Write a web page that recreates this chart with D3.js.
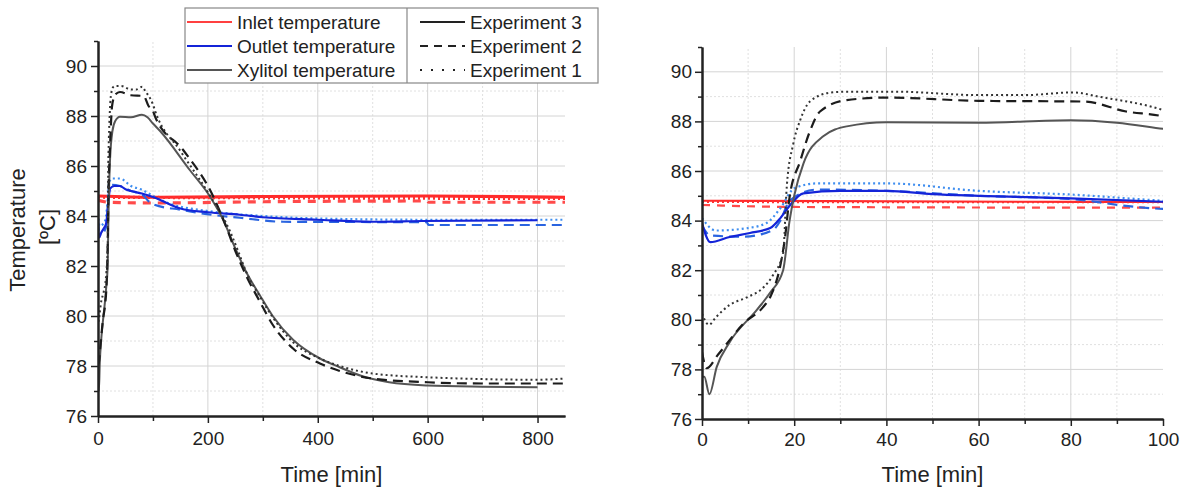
<!DOCTYPE html>
<html>
  <head>
    <title>Temperature profiles</title>
    <script type="text/javascript" src="https://cdn.jsdelivr.net/npm/d3@7"></script>
    <style type="text/css">
      body { margin: 0; background: #fff; }
      text { font-family: "Liberation Sans", Arial, sans-serif; fill: #222; }
      .grid-major line { stroke: #d4d4d4; stroke-width: 1; }
      .grid-minor line { stroke: #e0e0e0; stroke-width: 1; stroke-dasharray: 2,2; }
      .axis path, .axis line { stroke: #222; }
      .axis path { stroke-width: 2; }
      .axis line { stroke-width: 1.5; }
      .axis text { font-size: 19px; }
    </style>
  </head>
  <body>
  <script type="text/javascript">

  // time [min], temperature [C]
  var inletExp3 = [[0,84.8],[100,84.75],[300,84.78],[600,84.8],[850,84.75]]
  var inletExp2 = [[0,84.63],[20,84.55],[100,84.52],[300,84.57],[598,84.6],[602,84.55],[850,84.55]]
  var inletExp1 = [[0,84.75],[400,84.72],[850,84.7]]

  var outletExp3 = [[0,83.9],[1.8,83.13],[6,83.34],[10.4,83.5],[14.8,83.7],[17,84.1],[19,84.6],[22,85.1],
    [30,85.2],[40,85.2],[50,85.07],[60,85.0],[80,84.9],[100,84.76],[150,84.3],[200,84.15],[258,84.05],
    [300,83.95],[398,83.85],[500,83.77],[591,83.8],[800,83.83]]
  var outletExp2 = [[0,83.8],[1.8,83.4],[9,83.35],[15.4,83.62],[17,84.0],[19,84.8],[25,85.25],[40,85.2],
    [60,85.0],[80,84.87],[93.6,84.56],[100,84.47],[150,84.25],[210,84.04],[258,83.93],[337,83.77],
    [598,83.75],[602,83.64],[850,83.64]]
  var outletExp1 = [[0,84.1],[3,83.6],[10,83.7],[14,83.9],[17,84.5],[20,85.3],[25,85.5],[40,85.5],
    [60,85.2],[80,85.05],[100,84.8],[130,84.5],[200,84.2],[300,84.0],[400,83.9],[600,83.85],[850,83.85]]

  var xylitolExp3 = [[0,77.7],[0.5,77.7],[1.6,77.0],[3.2,78.1],[6,79.1],[11.9,80.4],[14.8,81.1],[17.6,82.0],
    [19,84.0],[20,85.0],[22,86.3],[26.3,87.4],[31.4,87.8],[40,87.97],[60,87.95],[80,88.05],[90,87.95],
    [100,87.7],[113,87.4],[167,85.84],[204,84.77],[228,83.84],[250,82.7],[270,81.75],[294,80.85],
    [318,80.0],[355,79.05],[404,78.3],[440,77.95],[480,77.6],[530,77.35],[600,77.22],[700,77.17],[800,77.15]]
  var xylitolExp2 = [[0,78.7],[1,78.05],[3.5,78.6],[9.3,79.9],[13.2,80.5],[15,81.0],[17,82.2],[18,83.3],
    [19,84.95],[21.3,86.4],[23.4,87.6],[25.6,88.4],[31.4,88.86],[40,88.96],[60,88.83],[83,88.8],[92,88.4],
    [100,88.2],[104,87.97],[155,86.64],[210,84.77],[231,83.7],[250,82.6],[270,81.6],[294,80.6],[318,79.65],
    [355,78.7],[404,78.1],[440,77.8],[500,77.5],[600,77.35],[700,77.3],[850,77.3]]
  var xylitolExp1 = [[0,80.25],[1.5,79.8],[3,80.1],[6,80.6],[9.7,80.9],[13.3,81.3],[15.4,81.8],[17.6,82.7],
    [18.4,85.4],[19.8,87.1],[21.3,88.05],[23.4,88.8],[27.8,89.16],[31.4,89.2],[42,89.2],[60,89.06],
    [70,89.06],[80.5,89.17],[86,89.0],[100,88.46],[104,88.2],[150,86.6],[200,84.95],[240,83.4],[255,82.6],
    [270,81.75],[294,80.8],[318,79.95],[355,78.95],[404,78.3],[440,78.0],[500,77.7],[600,77.55],[800,77.45],[850,77.5]]

  var yTicks = [76, 78, 80, 82, 84, 86, 88, 90]
  var yMinor = [77, 79, 81, 83, 85, 87, 89, 91]
  var xTicksLeft = [0, 200, 400, 600, 800]
  var xMinorLeft = [100, 300, 500, 700]
  var xTicksRight = [0, 20, 40, 60, 80, 100]
  var xMinorRight = [10, 30, 50, 70, 90]

  var seriesNames = ['Inlet temperature', 'Outlet temperature', 'Xylitol temperature']
  var experimentNames = ['Experiment 3', 'Experiment 2', 'Experiment 1']

  var series = [
    { data: inletExp3, color: '#ff2a2a', dash: null, w: 2.2, red: true },
    { data: inletExp2, color: '#ff4a4a', dash: '8,7', w: 2.2, red: true },
    { data: inletExp1, color: '#ff3030', dash: '2,3', w: 2.2, red: true },
    { data: outletExp2, color: '#2a64e0', dash: '10,6', w: 2.2 },
    { data: outletExp1, color: '#3f8ef0', dash: '2,3', w: 2.2 },
    { data: outletExp3, color: '#1424d8', dash: null, w: 2.2 },
    { data: xylitolExp3, color: '#555555', dash: null, w: 2 },
    { data: xylitolExp2, color: '#1c1c1c', dash: '10,6', w: 2.2 },
    { data: xylitolExp1, color: '#333333', dash: '2,3', w: 2 }
  ]

  var svg = d3.select('body').append('svg')
    .attr('width', 1184)
    .attr('height', 494)

  function panel(id, x, y, xTicks, xMinor, ySize, xPad, redW) {
    var g = svg.append('g')
    var x0 = x.range()[0], x1 = x.range()[1]
    var y0 = y.range()[0], y1 = y.range()[1]

    // grid
    g.append('g').attr('class', 'grid-minor')
      .selectAll('line.h').data(yMinor.filter(function(d) { return d < 91; })).enter().append('line')
        .attr('x1', x0).attr('x2', x1).attr('y1', y).attr('y2', y)
    g.select('.grid-minor')
      .selectAll('line.v').data(xMinor).enter().append('line')
        .attr('x1', x).attr('x2', x).attr('y1', y0).attr('y2', y1)
    g.append('g').attr('class', 'grid-major')
      .selectAll('line.h').data(yTicks.slice(1)).enter().append('line')
        .attr('x1', x0).attr('x2', x1).attr('y1', y).attr('y2', y)
    g.select('.grid-major')
      .selectAll('line.v').data(xTicks.slice(1).filter(function(d) { return x(d) < x1 - 1; })).enter().append('line')
        .attr('x1', x).attr('x2', x).attr('y1', y0).attr('y2', y1)

    // lines
    svg.append('clipPath').attr('id', id)
      .append('rect').attr('x', x0).attr('y', y1 - 5).attr('width', x1 - x0).attr('height', y0 - y1 + 5)

    var line = d3.line()
      .x(function(d) { return x(d[0]); })
      .y(function(d) { return y(d[1]); })
      .curve(d3.curveMonotoneX)

    g.append('g').attr('clip-path', 'url(#' + id + ')')
      .selectAll('path').data(series).enter().append('path')
        .attr('d', function(s) { return line(s.data); })
        .attr('fill', 'none')
        .attr('stroke', function(s) { return s.color; })
        .attr('stroke-width', function(s) { return s.red ? redW : s.w; })
        .attr('stroke-dasharray', function(s) { return s.dash; })

    // axes
    g.append('g').attr('class', 'axis')
      .attr('transform', 'translate(0,' + y0 + ')')
      .call(d3.axisBottom(x).tickValues(xMinor).tickSize(5).tickSizeOuter(0).tickFormat(''))
    g.append('g').attr('class', 'axis')
      .attr('transform', 'translate(0,' + y0 + ')')
      .call(d3.axisBottom(x).tickValues(xTicks).tickSize(7).tickSizeOuter(0).tickPadding(xPad))
    g.append('g').attr('class', 'axis')
      .attr('transform', 'translate(' + x0 + ',0)')
      .call(d3.axisLeft(y).tickValues(yMinor).tickSize(4).tickSizeOuter(0).tickFormat(''))
    g.append('g').attr('class', 'axis')
      .attr('transform', 'translate(' + x0 + ',0)')
      .call(d3.axisLeft(y).tickValues(yTicks).tickSize(7).tickSizeOuter(0).tickPadding(ySize))

    g.append('text')
      .attr('x', (x0 + x1) / 2).attr('y', 482)
      .attr('text-anchor', 'middle')
      .style('font-size', '22px')
      .text('Time [min]')
  }

  var xL = d3.scaleLinear().domain([0, 850]).range([98, 565])
  var yL = d3.scaleLinear().domain([76, 91]).range([416, 41])
  var xR = d3.scaleLinear().domain([0, 100]).range([702, 1163])
  var yR = d3.scaleLinear().domain([76, 91]).range([419, 47])

  panel('clipL', xL, yL, xTicksLeft, xMinorLeft, 4, 9, 3.2)
  panel('clipR', xR, yR, xTicksRight, xMinorRight, 3, 7, 2.2)

  // y label
  svg.append('text')
    .attr('transform', 'translate(25,230) rotate(-90)')
    .attr('text-anchor', 'middle')
    .style('font-size', '22px')
    .text('Temperature')
  svg.append('text')
    .attr('transform', 'translate(55,227) rotate(-90)')
    .attr('text-anchor', 'middle')
    .style('font-size', '22px')
    .text('[ºC]')

  // legend
  var leg = svg.append('g')
  leg.append('rect')
    .attr('x', 185).attr('y', 8).attr('width', 413).attr('height', 75)
    .attr('fill', '#fff').attr('stroke', '#888').attr('stroke-width', 1.2)
  leg.append('line')
    .attr('x1', 407).attr('x2', 407).attr('y1', 8).attr('y2', 83)
    .attr('stroke', '#888').attr('stroke-width', 1.2)

  var legColors = ['#ff4040', '#1424d8', '#555555']
  var legDash = [null, '8,6', '2,9']
  var rowY = d3.scaleLinear().domain([0, 2]).range([22, 70])

  seriesNames.forEach(function(n, i) {
    leg.append('line')
      .attr('x1', 187).attr('x2', 232).attr('y1', rowY(i)).attr('y2', rowY(i))
      .attr('stroke', legColors[i]).attr('stroke-width', 2)
    leg.append('text')
      .attr('x', 237).attr('y', rowY(i)).attr('dy', '0.35em')
      .style('font-size', '19px')
      .text(n)
  })
  experimentNames.forEach(function(n, i) {
    leg.append('line')
      .attr('x1', 420).attr('x2', 465).attr('y1', rowY(i)).attr('y2', rowY(i))
      .attr('stroke', '#222').attr('stroke-width', 2)
      .attr('stroke-dasharray', legDash[i])
    leg.append('text')
      .attr('x', 470).attr('y', rowY(i)).attr('dy', '0.35em')
      .style('font-size', '19px')
      .text(n)
  })

  </script>
  </body>
</html>
